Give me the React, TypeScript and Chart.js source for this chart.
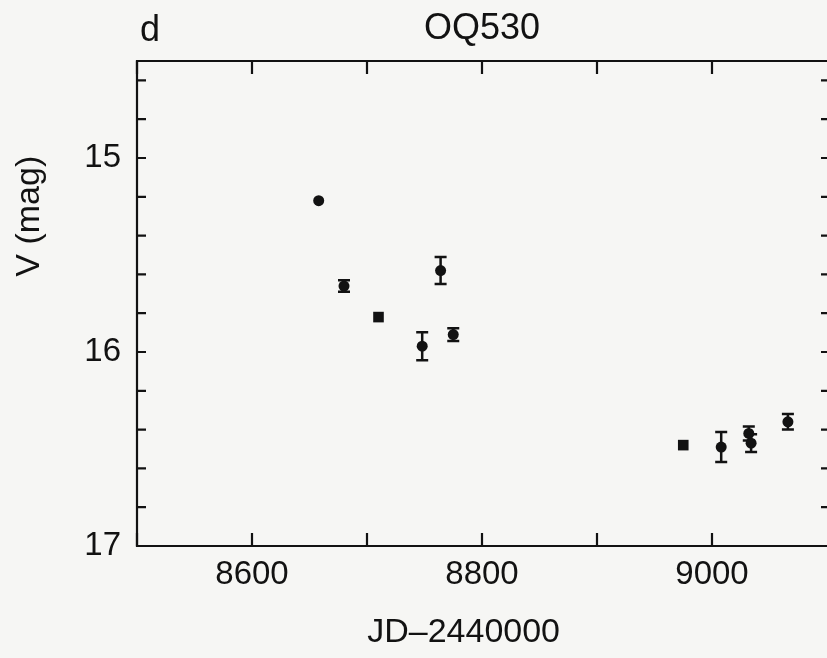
import React, { useEffect, useRef } from 'react';
import { Chart, registerables } from 'chart.js';

Chart.register(...registerables);

// ---- text ----
const panelLetter = 'd';
const chartTitle = 'OQ530';
const xAxisTitle = 'JD\u20132440000';
const yAxisTitle = 'V (mag)';

// ---- data (JD - 2440000, V magnitude) ----
const circleJD = [8658, 8680, 8748, 8764, 8775, 9008, 9032, 9034, 9066];
const circleV = [15.22, 15.66, 15.97, 15.58, 15.91, 16.49, 16.42, 16.47, 16.36];
const circleErr = [0, 0.03, 0.072, 0.07, 0.033, 0.077, 0.036, 0.046, 0.04];
const squareJD = [8710, 8975];
const squareV = [15.82, 16.48];

// ---- ticks ----
const xTickValues = [8500, 8600, 8700, 8800, 8900, 9000];
const xTickLabels = ['', '8600', '', '8800', '', '9000'];
const yTickValues = [14.6, 14.8, 15.0, 15.2, 15.4, 15.6, 15.8, 16.0, 16.2, 16.4, 16.6, 16.8, 17.0];
const yTickLabels = ['', '', '15', '', '', '', '', '16', '', '', '', '', '17'];

const FONT = "'Liberation Sans', Arial, Helvetica, sans-serif";
const INK = '#121212';
const PAPER = '#f6f6f4';

const paperPlugin = {
  id: 'paper',
  beforeDraw(chart: any) {
    const { ctx, width, height } = chart;
    ctx.save();
    ctx.fillStyle = PAPER;
    ctx.fillRect(0, 0, width, height);
    ctx.restore();
  },
};

const errorBarPlugin = {
  id: 'errorBars',
  beforeDatasetsDraw(chart: any) {
    const { ctx } = chart;
    const xs = chart.scales.x;
    const ys = chart.scales.y;
    ctx.save();
    ctx.strokeStyle = INK;
    ctx.lineWidth = 2.5;
    const cap = 6;
    circleJD.forEach((jd, i) => {
      const e = circleErr[i];
      if (!e) return;
      const px = xs.getPixelForValue(jd);
      const y1 = ys.getPixelForValue(circleV[i] - e);
      const y2 = ys.getPixelForValue(circleV[i] + e);
      ctx.beginPath();
      ctx.moveTo(px, y1);
      ctx.lineTo(px, y2);
      ctx.moveTo(px - cap, y1);
      ctx.lineTo(px + cap, y1);
      ctx.moveTo(px - cap, y2);
      ctx.lineTo(px + cap, y2);
      ctx.stroke();
    });
    ctx.restore();
  },
};

const framePlugin = {
  id: 'frame',
  afterDraw(chart: any) {
    const { ctx, chartArea, width } = chart;
    const { left, right, top, bottom } = chartArea;
    const xs = chart.scales.x;
    const ys = chart.scales.y;
    ctx.save();
    ctx.strokeStyle = INK;
    ctx.lineWidth = 2.2;
    // frame: left, top, bottom (the right side lies at the page edge)
    ctx.beginPath();
    ctx.moveTo(width, top);
    ctx.lineTo(left, top);
    ctx.lineTo(left, bottom);
    ctx.lineTo(width, bottom);
    ctx.stroke();
    const xLen = 13;
    const yLen = 9;
    ctx.beginPath();
    xs.ticks.forEach((t: any) => {
      const px = xs.getPixelForValue(t.value);
      ctx.moveTo(px, bottom);
      ctx.lineTo(px, bottom - xLen);
      ctx.moveTo(px, top);
      ctx.lineTo(px, top + xLen);
    });
    ys.ticks.forEach((t: any) => {
      const py = ys.getPixelForValue(t.value);
      ctx.moveTo(left, py);
      ctx.lineTo(left + yLen, py);
      ctx.moveTo(right + 3, py);
      ctx.lineTo(right + 3 - yLen, py);
    });
    ctx.stroke();

    ctx.fillStyle = INK;
    ctx.textAlign = 'center';
    ctx.textBaseline = 'middle';
    // panel letter
    ctx.font = `36px ${FONT}`;
    ctx.fillText(panelLetter, left + 13, top - 30);
    // x axis title
    ctx.font = `34px ${FONT}`;
    ctx.fillText(xAxisTitle, xs.getPixelForValue(8784), bottom + 87);
    // y axis title (rotated)
    ctx.save();
    ctx.translate(30, ys.getPixelForValue(15.3));
    ctx.rotate(-Math.PI / 2);
    ctx.fillText(yAxisTitle, 0, 0);
    ctx.restore();
    ctx.restore();
  },
};

export default function App() {
  const canvasRef = useRef<HTMLCanvasElement | null>(null);

  useEffect(() => {
    const canvas = canvasRef.current;
    if (!canvas) return;
    const chart = new Chart(canvas, {
      type: 'scatter',
      data: {
        datasets: [
          {
            label: 'circles',
            data: circleJD.map((x, i) => ({ x, y: circleV[i] })),
            pointStyle: 'circle',
            pointRadius: 5.5,
            pointBorderWidth: 0,
            backgroundColor: INK,
            borderColor: INK,
          },
          {
            label: 'squares',
            data: squareJD.map((x, i) => ({ x, y: squareV[i] })),
            pointStyle: 'rect',
            pointRadius: 7.5,
            pointBorderWidth: 0,
            backgroundColor: INK,
            borderColor: INK,
          },
        ],
      },
      options: {
        responsive: false,
        animation: false,
        events: [],
        layout: { padding: 0, autoPadding: false },
        plugins: {
          legend: { display: false },
          tooltip: { enabled: false },
          title: {
            display: true,
            text: chartTitle,
            fullSize: false,
            color: INK,
            font: { family: FONT, size: 36, weight: 'normal' },
            padding: { top: 7, bottom: 10.8 },
          },
        },
        scales: {
          x: {
            type: 'linear',
            min: 8500,
            max: 9100,
            afterBuildTicks: (scale: any) => {
              scale.ticks = xTickValues.map((v) => ({ value: v }));
            },
            afterFit: (scale: any) => {
              scale.height = 112;
            },
            grid: { display: false },
            border: { display: false },
            ticks: {
              autoSkip: false,
              maxRotation: 0,
              padding: 1,
              color: INK,
              font: { family: FONT, size: 33 },
              callback: (_v: any, i: number) => xTickLabels[i],
            },
            title: { display: false },
          },
          y: {
            type: 'linear',
            min: 14.5,
            max: 17,
            reverse: true,
            afterBuildTicks: (scale: any) => {
              scale.ticks = yTickValues.map((v) => ({ value: v }));
            },
            afterFit: (scale: any) => {
              scale.width = 137;
            },
            grid: { display: false },
            border: { display: false },
            ticks: {
              autoSkip: false,
              padding: 8,
              color: INK,
              font: { family: FONT, size: 33 },
              callback: (_v: any, i: number) => yTickLabels[i],
            },
            title: { display: false },
          },
        },
      },
      plugins: [paperPlugin, errorBarPlugin, framePlugin],
    } as any);
    return () => chart.destroy();
  }, []);

  return (
    <div style={{ position: 'fixed', left: 0, top: 0, width: 827, height: 658, background: PAPER }}>
      <canvas ref={canvasRef} width={827} height={658} style={{ display: 'block' }} />
    </div>
  );
}
